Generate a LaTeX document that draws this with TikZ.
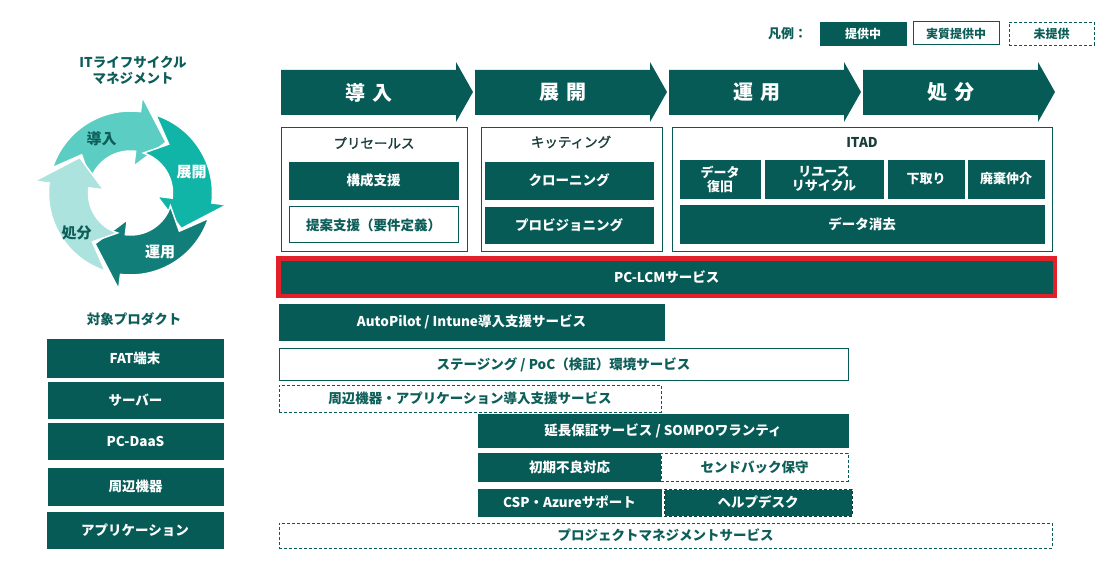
\documentclass[tikz,border=0pt]{standalone}
\usepackage{fontspec}
\setmainfont{Noto Sans CJK JP}
\newfontfamily\medfont[FakeBold=1.6]{Noto Sans CJK JP}
\definecolor{dk}{HTML}{065B56}
\definecolor{tx}{HTML}{0D5E59}
\definecolor{tt}{HTML}{1A3D3A}
\definecolor{rd}{HTML}{E1202A}
\definecolor{cA}{HTML}{5CCDC3}
\definecolor{cB}{HTML}{10B5A7}
\definecolor{cC}{HTML}{127E7A}
\definecolor{cD}{HTML}{ADE3DE}
\tikzset{
 base/.style={inner sep=0pt, outer sep=0pt, align=center, font=\bfseries\fontsize{13.5}{15}\selectfont},
 dkbox/.style={base, fill=dk, draw=dk, text=white},
 wbox/.style={base, fill=white, draw=dk, line width=1pt, text=tx},
 dbox/.style={base, fill=white, draw=dk, line width=0.8pt, dash pattern=on 3pt off 2pt, text=tx},
 hbox/.style={base, fill=dk, draw=white, line width=1pt, text=white, postaction={draw=dk!70!black, line width=1pt, dash pattern=on 3pt off 2pt}},
 lcmbox/.style={base, fill=dk, draw=rd, line width=4.5pt, text=white},
 frame/.style={draw=dk, line width=1pt, fill=white, inner sep=0pt, outer sep=0pt},
 ttl/.style={font=\medfont\fontsize{13.5}{15}\selectfont, text=tt, inner sep=0pt},
 phasetxt/.style={font=\bfseries\fontsize{20}{22}\selectfont, text=white, inner sep=0pt},
 cyctxt/.style={font=\bfseries\fontsize{15}{17}\selectfont, inner sep=0pt},
 lgbox/.style={base, font=\bfseries\fontsize{12}{14}\selectfont},
}
\newcommand\rb[7]{\node[#1, minimum width={(#5-#3)*1pt}, minimum height={(#6-#4)*1pt}] (#2) at ({(#3+#5)/2},{(#4+#6)/2}) {#7};}
\newcommand\phase[3]{%
 \fill[dk] (#2,70) -- ({#2+175},70) -- ({#2+175},62) -- ({#2+192},92) -- ({#2+175},122) -- ({#2+175},115) -- (#2,115) -- cycle;
 \node[phasetxt] (#1) at ({#2+88},92.5) {#3};}
\newcommand\cyc[4]{%
 \filldraw[fill=#1, draw=white, line width=1.5pt, line join=miter] (#2:82) arc[start angle=#2, end angle=#3, radius=82] -- (#3:97) -- (#4:62) -- (#3:27) -- (#3:42) arc[start angle=#3, end angle=#2, radius=42] -- ({#2-20}:62) -- cycle;}
\begin{document}
\begin{tikzpicture}[x=1pt,y=-1pt]
\useasboundingbox (0,0) rectangle (1114,561);
% legend
\node[ttl, font=\bfseries\fontsize{13}{15}\selectfont, text=tx, anchor=west] (lgt) at (768,34) {凡例：};
\rb{lgbox, fill=dk, draw=dk, text=white}{lg1}{820}{22}{906}{45}{提供中}
\rb{lgbox, fill=white, draw=dk, line width=1pt, text=tx}{lg2}{913}{22}{999}{45}{実質提供中}
\rb{lgbox, fill=white, draw=dk, line width=0.8pt, dash pattern=on 3pt off 2pt, text=tx}{lg3}{1009}{22}{1094}{45}{未提供}
% cycle
\node[ttl, font=\bfseries\fontsize{13.5}{15.5}\selectfont, text=tx, align=center] (cyct) at (133,70.5) {ITライフサイクル\\マネジメント};
\begin{scope}[shift={(130.5,193)}, yscale=-1]
\cyc{cA}{162}{83}{55}
\cyc{cB}{72}{-7}{-35}
\cyc{cC}{-18}{-97}{-125}
\cyc{cD}{-108}{-187}{-215}
\end{scope}
\node[cyctxt, text=tx] (cy1) at (101.7,138.3) {導入};
\node[cyctxt, text=white] (cy2) at (191.7,171.7) {展開};
\node[cyctxt, text=white] (cy3) at (160,251.7) {運用};
\node[cyctxt, text=tx] (cy4) at (76.7,233.3) {処分};
% products
\node[ttl, font=\bfseries\fontsize{13.5}{15}\selectfont, text=tx] (prt) at (134,319) {対象プロダクト};
\rb{dkbox}{p1}{47}{339}{223}{377}{FAT端末}
\rb{dkbox}{p2}{48}{382}{223}{418}{サーバー}
\rb{dkbox}{p3}{48}{423}{223}{459}{PC-DaaS}
\rb{dkbox}{p4}{48}{468}{223}{505}{周辺機器}
\rb{dkbox}{p5}{47}{512}{223}{548}{アプリケーション}
% phases
\phase{ph1}{281}{導\hspace{0.4em}入}
\phase{ph2}{475}{展\hspace{0.4em}開}
\phase{ph3}{669}{運\hspace{0.4em}用}
\phase{ph4}{863}{処\hspace{0.4em}分}
% frames
\rb{frame}{f1}{281}{128}{467}{252}{}
\node[ttl] (f1t) at (374,143) {プリセールス};
\rb{dkbox}{b11}{289}{162}{458}{199}{構成支援}
\rb{wbox}{b12}{289}{207}{458}{243}{提案支援（要件定義）}
\rb{frame}{f2}{481}{128}{662}{252}{}
\node[ttl] (f2t) at (571,142) {キッティング};
\rb{dkbox}{b21}{485}{162}{653}{199}{クローニング}
\rb{dkbox}{b22}{485}{207}{653}{243}{プロビジョニング}
\rb{frame}{f3}{672}{128}{1052}{252}{}
\node[ttl, font=\bfseries\fontsize{13.5}{15}\selectfont] (f3t) at (862,142) {ITAD};
\rb{dkbox, font=\bfseries\fontsize{13}{14}\selectfont}{b31}{680}{160}{760}{198}{データ\\復旧}
\rb{dkbox, font=\bfseries\fontsize{13}{14}\selectfont}{b32}{765}{160}{883}{198}{リユース\\リサイクル}
\rb{dkbox, font=\bfseries\fontsize{13}{14}\selectfont}{b33}{888}{160}{964}{198}{下取り}
\rb{dkbox, font=\bfseries\fontsize{13}{14}\selectfont}{b34}{968}{160}{1044}{198}{廃棄仲介}
\rb{dkbox}{b35}{680}{205}{1044}{243}{データ消去}
% services
\rb{lcmbox}{s0}{278.3}{258.3}{1055}{295.8}{PC-LCMサービス}
\rb{dkbox}{s1}{279}{304}{664}{340}{AutoPilot / Intune導入支援サービス}
\rb{wbox}{s2}{279}{349}{848}{380}{ステージング / PoC（検証）環境サービス}
\rb{dbox}{s3}{279}{385}{661}{412}{周辺機器・アプリケーション導入支援サービス}
\rb{dkbox}{s4}{478}{414}{848}{447}{延長保証サービス / SOMPOワランティ}
\rb{dkbox}{s5}{478}{453}{661}{481}{初期不良対応}
\rb{dbox}{s6}{661}{453}{848}{481}{センドバック保守}
\rb{dkbox}{s7}{478}{489}{661}{516}{CSP・Azureサポート}
\rb{hbox}{s8}{664}{489}{852}{516}{ヘルプデスク}
\rb{dbox}{s9}{279}{523}{1052}{548}{プロジェクトマネジメントサービス}
\end{tikzpicture}
\end{document}
